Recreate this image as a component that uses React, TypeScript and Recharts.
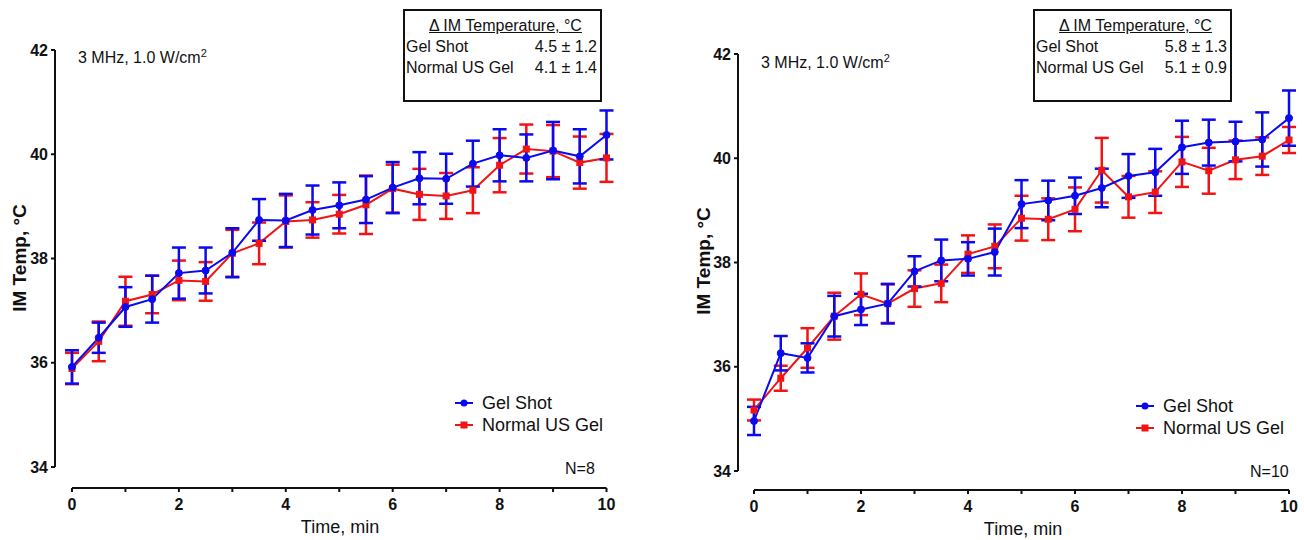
import React from "react";
import { LineChart, Line, XAxis, YAxis, ErrorBar, Legend } from "recharts";

// sampling times, min
const times = [0, 0.5, 1, 1.5, 2, 2.5, 3, 3.5, 4, 4.5, 5, 5.5, 6, 6.5, 7, 7.5, 8, 8.5, 9, 9.5, 10];

// left panel (N=8)
const gelShotA = [35.92, 36.48, 37.07, 37.22, 37.72, 37.77, 38.11, 38.74, 38.73, 38.93, 39.02, 39.13, 39.36, 39.54, 39.53, 39.82, 39.98, 39.93, 40.07, 39.96, 40.37];
const gelShotAErr = [0.32, 0.29, 0.38, 0.45, 0.49, 0.44, 0.47, 0.4, 0.51, 0.47, 0.44, 0.45, 0.49, 0.5, 0.48, 0.44, 0.5, 0.45, 0.55, 0.52, 0.47];
const normalGelA = [35.89, 36.41, 37.18, 37.31, 37.58, 37.56, 38.1, 38.29, 38.71, 38.74, 38.85, 39.03, 39.34, 39.23, 39.2, 39.31, 39.79, 40.1, 40.06, 39.84, 39.93];
const normalGelAErr = [0.3, 0.38, 0.47, 0.36, 0.38, 0.37, 0.45, 0.4, 0.5, 0.34, 0.37, 0.56, 0.46, 0.49, 0.44, 0.44, 0.52, 0.47, 0.5, 0.5, 0.46];

// right panel (N=10)
const gelShotB = [34.96, 36.26, 36.17, 36.97, 37.1, 37.21, 37.83, 38.04, 38.07, 38.2, 39.12, 39.19, 39.28, 39.43, 39.66, 39.73, 40.21, 40.3, 40.32, 40.36, 40.77];
const gelShotBErr = [0.27, 0.33, 0.28, 0.39, 0.3, 0.38, 0.29, 0.4, 0.32, 0.45, 0.46, 0.38, 0.35, 0.37, 0.42, 0.45, 0.51, 0.44, 0.38, 0.52, 0.53];
const normalGelB = [35.17, 35.78, 36.36, 36.97, 37.39, 37.21, 37.5, 37.6, 38.16, 38.31, 38.85, 38.83, 39.02, 39.77, 39.26, 39.35, 39.93, 39.76, 39.97, 40.04, 40.35];
const normalGelBErr = [0.2, 0.24, 0.38, 0.45, 0.4, 0.37, 0.35, 0.36, 0.36, 0.42, 0.43, 0.4, 0.42, 0.62, 0.4, 0.4, 0.48, 0.44, 0.37, 0.36, 0.25];

const xTicks = [0, 1, 2, 3, 4, 5, 6, 7, 8, 9, 10];
const yTicks = [34, 36, 38, 40, 42];

const BLUE = "#0a0af0";
const RED = "#f01414";
const FONT = "'Liberation Sans', Arial, sans-serif";

const makeRows = (g: number[], ge: number[], n: number[], ne: number[]) =>
  times.map((t, i) => ({ t, gel: g[i], gelErr: ge[i], normal: n[i], normalErr: ne[i] }));

const SquareDot = (p: any) => (
  <rect key={p.index} x={p.cx - 3.5} y={p.cy - 3.5} width={7} height={7} fill={RED} />
);

const LegendBox = () => (
  <div style={{ fontSize: 18, color: "#111", lineHeight: "22px" }}>
    {[
      { name: "Gel Shot", color: BLUE, sq: false },
      { name: "Normal US Gel", color: RED, sq: true },
    ].map((it) => (
      <div key={it.name} style={{ display: "flex", alignItems: "center", height: 22 }}>
        <svg width={18} height={10} style={{ marginRight: 9 }}>
          <line x1={0} y1={5} x2={18} y2={5} stroke={it.color} strokeWidth={2} />
          {it.sq ? (
            <rect x={5.5} y={1.5} width={7} height={7} fill={it.color} />
          ) : (
            <circle cx={9} cy={5} r={3.5} fill={it.color} />
          )}
        </svg>
        <span>{it.name}</span>
      </div>
    ))}
  </div>
);

function Panel(props: {
  rows: any[];
  left: number;
  width: number;
  top: number;
  right: number;
  yAxisW: number;
  xAxisH: number;
  padL: number;
  padB: number;
  xDash: string;
  yDash: string;
  yLab: [number, number];
  xLab: [number, number];
  legend: [number, number];
}) {
  const p = props;
  return (
    <div style={{ position: "absolute", left: p.left, top: 0 }}>
      <LineChart
        width={p.width}
        height={540}
        data={p.rows}
        margin={{ top: p.top, right: p.right, left: 0, bottom: 0 }}
      >
        <XAxis
          dataKey="t"
          type="number"
          domain={[0, 10]}
          ticks={xTicks}
          padding={{ left: p.padL, right: 0 }}
          height={p.xAxisH}
          axisLine={{ stroke: "#111", strokeWidth: 2, strokeDasharray: p.xDash }}
          tickLine={{ stroke: "#111", strokeWidth: 2 }}
          tickSize={4}
          tickMargin={7}
          tickFormatter={(v: number) => (v % 2 === 0 ? String(v) : "")}
          tick={{ fontSize: 16, fontWeight: "bold", fill: "#111" }}
          label={() => (
            <text x={p.xLab[0]} y={p.xLab[1]} textAnchor="middle" fontSize={18} fill="#111">
              Time, min
            </text>
          )}
        />
        <YAxis
          type="number"
          domain={[34, 42]}
          ticks={yTicks}
          width={p.yAxisW}
          padding={{ top: 0, bottom: p.padB }}
          axisLine={{ stroke: "#111", strokeWidth: 2, strokeDasharray: p.yDash }}
          tickLine={{ stroke: "#111", strokeWidth: 2 }}
          tickSize={4}
          tickMargin={3}
          tick={{ fontSize: 16, fontWeight: "bold", fill: "#111" }}
          label={() => (
            <text
              x={p.yLab[0]}
              y={p.yLab[1]}
              transform={`rotate(-90 ${p.yLab[0]} ${p.yLab[1]})`}
              textAnchor="middle"
              dominantBaseline="central"
              fontSize={19}
              fontWeight="bold"
              fill="#111"
            >
              IM Temp, °C
            </text>
          )}
        />
        <Legend
          layout="vertical"
          align="center"
          verticalAlign="middle"
          content={LegendBox}
          wrapperStyle={{ left: p.legend[0], top: p.legend[1], width: 180, bottom: "auto" }}
        />
        <Line
          type="linear"
          dataKey="normal"
          name="Normal US Gel"
          stroke={RED}
          strokeWidth={2}
          dot={SquareDot}
          activeDot={false}
          isAnimationActive={false}
        >
          <ErrorBar dataKey="normalErr" direction="y" width={7} strokeWidth={2.5} stroke={RED} isAnimationActive={false} />
        </Line>
        <Line
          type="linear"
          dataKey="gel"
          name="Gel Shot"
          stroke={BLUE}
          strokeWidth={2}
          dot={{ r: 3.5, fill: BLUE, stroke: BLUE, strokeWidth: 1 }}
          activeDot={false}
          isAnimationActive={false}
        >
          <ErrorBar dataKey="gelErr" direction="y" width={7} strokeWidth={2.5} stroke={BLUE} isAnimationActive={false} />
        </Line>
      </LineChart>
    </div>
  );
}

const StatBox = (props: { left: number; a: string; b: string }) => (
  <div
    style={{
      position: "absolute",
      left: props.left,
      top: 9,
      width: 199,
      height: 93,
      boxSizing: "border-box",
      border: "2px solid #111",
      padding: "4px 3px 0 1px",
      fontSize: 16,
      lineHeight: "21px",
      color: "#111",
    }}
  >
    <div style={{ textAlign: "center", paddingLeft: 8 }}>
      <span style={{ textDecoration: "underline" }}>Δ IM Temperature, °C</span>
    </div>
    <div style={{ display: "flex", justifyContent: "space-between" }}>
      <span>Gel Shot</span>
      <span>{props.a}</span>
    </div>
    <div style={{ display: "flex", justifyContent: "space-between" }}>
      <span>Normal US Gel</span>
      <span>{props.b}</span>
    </div>
  </div>
);

const Note = (props: { left: number; top: number; children: React.ReactNode }) => (
  <div style={{ position: "absolute", left: props.left, top: props.top, fontSize: 16, lineHeight: "16px", color: "#111", whiteSpace: "nowrap" }}>
    {props.children}
  </div>
);

export default function App() {
  const rowsA = makeRows(gelShotA, gelShotAErr, normalGelA, normalGelAErr);
  const rowsB = makeRows(gelShotB, gelShotBErr, normalGelB, normalGelBErr);
  return (
    <div
      style={{
        position: "absolute",
        left: 0,
        top: 0,
        width: 1304,
        height: 540,
        background: "#fff",
        fontFamily: FONT,
        overflow: "hidden",
      }}
    >
      <Panel
        rows={rowsA}
        left={0}
        width={650}
        top={50}
        right={43.5}
        yAxisW={55}
        xAxisH={52}
        padL={17}
        padB={21}
        xDash="0 17 534.5 100"
        yDash="417 100"
        yLab={[19, 258]}
        xLab={[340, 533]}
        legend={[455, 392]}
      />
      <Panel
        rows={rowsB}
        left={660}
        width={644}
        top={54}
        right={15}
        yAxisW={78}
        xAxisH={50}
        padL={16}
        padB={19}
        xDash="0 16 535 100"
        yDash="417 100"
        yLab={[43, 261]}
        xLab={[363, 535]}
        legend={[476, 395]}
      />
      <StatBox left={403} a="4.5 ± 1.2" b="4.1 ± 1.4" />
      <StatBox left={1033} a="5.8 ± 1.3" b="5.1 ± 0.9" />
      <Note left={78} top={50}>
        3 MHz, 1.0 W/cm<sup style={{ fontSize: 11, lineHeight: 0 }}>2</sup>
      </Note>
      <Note left={761} top={55}>
        3 MHz, 1.0 W/cm<sup style={{ fontSize: 11, lineHeight: 0 }}>2</sup>
      </Note>
      <Note left={565} top={461}>N=8</Note>
      <Note left={1250} top={464}>N=10</Note>
    </div>
  );
}
